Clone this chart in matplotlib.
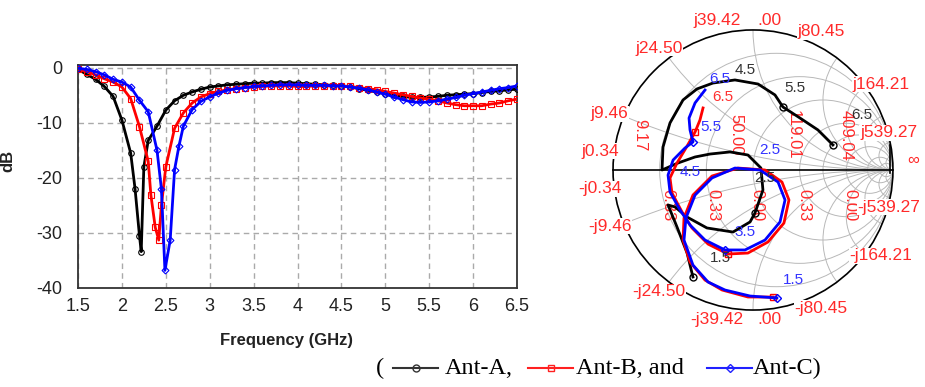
import numpy as np
import matplotlib.pyplot as plt
from matplotlib.lines import Line2D
from matplotlib.patches import Circle

plt.rcParams['font.family'] = ['Liberation Sans', 'DejaVu Sans']
plt.rcParams['axes.unicode_minus'] = False

# ---- S11 data (GHz, dB) ----
freq_a = [1.5, 1.6, 1.7, 1.8, 1.9, 2.0, 2.1, 2.15, 2.2, 2.22, 2.25, 2.3, 2.4, 2.5, 2.6, 2.7, 2.8, 2.9,
          3.0, 3.1, 3.2, 3.3, 3.4, 3.5, 3.6, 3.7, 3.8, 3.9, 4.0, 4.1, 4.2, 4.3, 4.4, 4.5, 4.6, 4.7,
          4.8, 4.9, 5.0, 5.1, 5.2, 5.3, 5.4, 5.5, 5.6, 5.7, 5.8, 5.9, 6.0, 6.1, 6.2, 6.3, 6.4, 6.5]
s11_a = [-0.3, -1.2, -2.1, -3.4, -5.2, -9.5, -15.5, -22.0, -30.5, -33.4, -18.0, -13.2, -10.6, -7.7,
         -6.0, -5.0, -4.4, -3.9, -3.5, -3.3, -3.1, -3.0, -2.9, -2.8, -2.8, -2.7, -2.7, -2.7, -2.8,
         -2.9, -3.0, -3.1, -3.2, -3.3, -3.5, -3.8, -4.1, -4.4, -4.7, -5.0, -5.2, -5.4, -5.4, -5.3,
         -5.2, -5.0, -4.9, -4.8, -4.7, -4.5, -4.3, -4.2, -4.0, -3.9]

freq_b = [1.5, 1.6, 1.7, 1.8, 1.9, 2.0, 2.1, 2.2, 2.3, 2.33, 2.38, 2.42, 2.45, 2.5, 2.6, 2.7, 2.8, 2.9,
          3.0, 3.1, 3.2, 3.3, 3.4, 3.5, 3.6, 3.7, 3.8, 3.9, 4.0, 4.1, 4.2, 4.3, 4.4, 4.5, 4.6, 4.7,
          4.8, 4.9, 5.0, 5.1, 5.2, 5.3, 5.4, 5.5, 5.6, 5.7, 5.8, 5.9, 6.0, 6.1, 6.2, 6.3, 6.4, 6.5]
s11_b = [-0.3, -0.7, -1.3, -2.0, -2.6, -3.5, -5.6, -10.7, -17.0, -23.1, -29.0, -31.3, -25.0, -18.0,
         -11.0, -8.2, -6.4, -5.3, -4.7, -4.3, -4.0, -3.8, -3.6, -3.5, -3.4, -3.3, -3.3, -3.3, -3.4,
         -3.4, -3.3, -3.3, -3.3, -3.3, -3.4, -3.6, -3.8, -4.0, -4.3, -4.6, -4.9, -5.2, -5.5, -5.7,
         -6.0, -6.4, -6.7, -6.9, -6.9, -6.9, -6.6, -6.4, -6.0, -5.7]

freq_c = [1.5, 1.6, 1.7, 1.8, 1.9, 2.0, 2.1, 2.2, 2.3, 2.4, 2.45, 2.49, 2.55, 2.6, 2.65, 2.7, 2.8, 2.9,
          3.0, 3.1, 3.2, 3.3, 3.4, 3.5, 3.6, 3.7, 3.8, 3.9, 4.0, 4.1, 4.2, 4.3, 4.4, 4.5, 4.6, 4.7,
          4.8, 4.9, 5.0, 5.1, 5.2, 5.3, 5.4, 5.5, 5.6, 5.7, 5.8, 5.9, 6.0, 6.1, 6.2, 6.3, 6.4, 6.5]
s11_c = [-0.1, -0.3, -0.7, -1.3, -2.1, -2.6, -3.5, -5.9, -8.0, -15.0, -22.0, -36.8, -31.3, -18.5,
         -14.2, -10.6, -7.6, -6.1, -5.3, -4.6, -4.1, -3.8, -3.6, -3.4, -3.3, -3.2, -3.1, -3.1, -3.1,
         -3.2, -3.2, -3.2, -3.3, -3.3, -3.5, -3.7, -4.0, -4.4, -4.8, -5.3, -5.8, -6.2, -6.3, -6.2,
         -6.0, -5.7, -5.4, -5.0, -4.7, -4.4, -4.1, -3.8, -3.6, -3.3]

# ---- reflection coefficient traces ----
gre_a = [-0.429, -0.471, -0.543, -0.607, -0.557, -0.471, -0.329, -0.143, -0.021, 0.014, 0.071, 0.057,
         -0.036, -0.164, -0.307, -0.414, -0.536, -0.65, -0.643, -0.593, -0.5, -0.4, -0.286, -0.129,
         0.036, 0.157, 0.214, 0.336, 0.464, 0.571]
gim_a = [-0.764, -0.593, -0.407, -0.25, -0.264, -0.336, -0.414, -0.443, -0.371, -0.307, -0.143, 0.014,
         0.107, 0.129, 0.114, 0.093, 0.05, 0.0, 0.164, 0.336, 0.5, 0.579, 0.621, 0.643,
         0.614, 0.536, 0.45, 0.371, 0.286, 0.179]

gre_b = [0.143, -0.036, -0.221, -0.343, -0.45, -0.5, -0.493, -0.429, -0.293, -0.107, 0.086, 0.207,
         0.257, 0.221, 0.107, -0.036, -0.179, -0.321, -0.436, -0.507, -0.579, -0.593, -0.543, -0.479,
         -0.414, -0.379, -0.357]
gim_b = [-0.907, -0.907, -0.857, -0.786, -0.657, -0.5, -0.343, -0.179, -0.043, 0.014, 0.0, -0.086,
         -0.214, -0.379, -0.514, -0.593, -0.6, -0.529, -0.414, -0.3, -0.164, -0.057, 0.05, 0.157,
         0.271, 0.357, 0.443]

gre_c = [0.171, -0.021, -0.2, -0.321, -0.429, -0.493, -0.479, -0.414, -0.293, -0.129, 0.05, 0.179,
         0.229, 0.193, 0.086, -0.057, -0.2, -0.343, -0.45, -0.521, -0.593, -0.607, -0.571, -0.486,
         -0.429, -0.45, -0.457, -0.414, -0.343]
gim_c = [-0.914, -0.9, -0.857, -0.8, -0.679, -0.5, -0.343, -0.179, -0.057, 0.014, 0.0, -0.086,
         -0.214, -0.371, -0.5, -0.571, -0.571, -0.5, -0.393, -0.286, -0.157, -0.036, 0.071, 0.157,
         0.2, 0.286, 0.371, 0.479, 0.571]

react_lbl = [0.34, 9.46, 24.50, 39.42, 80.45, 164.21, 539.27]
res_lbl = ['9.17', '50.00', '119.01', '409.04']
res_val = [9.17, 50.00, 119.01, 409.04]
low_lbl = ['0.33', '0.33', '0.00', '0.33', '0.00']
low_pos = [-0.61, -0.29, 0.03, 0.36, 0.69]

# frequency tags on the Smith chart: (text, x, y, colour)
f_tags = [('1.5', -0.236, -0.629, '#333333'), ('2.5', 0.086, -0.057, '#333333'),
          ('4.5', -0.057, 0.714, '#333333'), ('5.5', 0.30, 0.586, '#333333'),
          ('6.5', 0.78, 0.39, '#333333'),
          ('6.5', -0.236, 0.65, '#3333ff'), ('5.5', -0.30, 0.307, '#3333ff'),
          ('4.5', -0.45, -0.014, '#3333ff'), ('3.5', -0.057, -0.443, '#3333ff'),
          ('2.5', 0.121, 0.143, '#3333ff'), ('1.5', 0.286, -0.786, '#3333ff'),
          ('6.5', -0.214, 0.521, '#ff3030')]

fig = plt.figure(figsize=(9.25, 3.87), dpi=100)

# ================= S11 plot =================
ax = fig.add_axes([78 / 925, 99 / 387, 439 / 925, 223 / 387])
ax.plot(freq_a, s11_a, color='k', lw=2, marker='o', ms=4, mfc='none', mew=0.8, zorder=3)
ax.plot(freq_b, s11_b, color='#ff0000', lw=2, marker='s', ms=4, mfc='none', mew=0.8, zorder=4)
ax.plot(freq_c, s11_c, color='#0000ff', lw=2, marker='D', ms=3.5, mfc='none', mew=0.8, zorder=5)
ax.set_xlim(1.5, 6.5)
ax.set_ylim(-40, 0.5)
ax.set_xticks(np.arange(1.5, 6.51, 0.5))
ax.set_xticklabels(['1.5', '2', '2.5', '3', '3.5', '4', '4.5', '5', '5.5', '6', '6.5'])
ax.set_yticks([0, -10, -20, -30, -40])
ax.grid(True, ls=(0, (4, 3)), color='#aaaaaa', lw=1)
ax.tick_params(axis='x', length=0, labelsize=13, pad=7, colors='#222222')
ax.tick_params(axis='y', length=0, labelsize=13, pad=11, colors='#222222')
for sp in ax.spines.values():
    sp.set_linewidth(1.3)
    sp.set_color('#333333')
ax.set_xlabel('Frequency (GHz)', fontsize=12, weight='bold', color='#222222')
ax.set_ylabel('dB', fontsize=12, weight='bold', color='#222222')
ax.xaxis.set_label_coords(0.476, -0.2)
ax.yaxis.set_label_coords(-0.143, 0.57)

# ================= Smith chart =================
sax = fig.add_axes([560 / 925, 47 / 387, 365 / 925, 340 / 387])
sax.set_xlim(-1.379, 1.229)
sax.set_ylim(-1.214, 1.214)
sax.axis('off')

clip = Circle((0, 0), 1, transform=sax.transData)
grid_c = '#b8b8b8'
for r in [0.2, 0.5, 1, 2, 3, 5, 10, 20]:
    c = Circle((r / (1 + r), 0), 1 / (1 + r), fill=False, ec=grid_c, lw=0.7, zorder=1)
    sax.add_patch(c)
    c.set_clip_path(clip)
for xv in [0.2, 0.5, 1, 2, 3, 5, 10, 20]:
    for sgn in [1, -1]:
        c = Circle((1, sgn / xv), 1 / xv, fill=False, ec=grid_c, lw=0.7, zorder=1)
        sax.add_patch(c)
        c.set_clip_path(clip)
sax.add_patch(Circle((0, 0), 1, fill=False, ec='k', lw=1.2, zorder=2))
sax.plot([-1, 1], [0, 0], color='k', lw=1.2, zorder=2)
sax.plot([0.98, 0.98], [-0.02, 0.18], color='k', lw=1.2, zorder=2)

red_t = '#ff2a2a'
for xv in react_lbl:
    th = np.degrees(2 * np.arctan(50.0 / xv))
    if th > 90:
        th = min(th, 173)
    else:
        th = max(th, 14)
    for sgn in [1, -1]:
        a = np.radians(th) * sgn
        px = min(1.1 * np.cos(a), 0.97)
        py = 1.1 * np.sin(a)
        sax.text(px, py, ('j' if sgn > 0 else '-j') + '%.2f' % xv,
                 color=red_t, fontsize=12.5, ha='center', va='center', zorder=6,
                 bbox=dict(fc='white', ec='none', pad=0.5))
        if xv == 39.42:
            # tail of the hidden j50.00 label peeking out
            sax.text(px + 0.29, py, '.00', color=red_t, fontsize=12.5, ha='left',
                     va='center', zorder=6, bbox=dict(fc='white', ec='none', pad=0.5))
sax.text(1.1, 0.07, '\u221e', color=red_t, fontsize=12, ha='left', va='center', zorder=6)

for lbl, rv in zip(res_lbl, res_val):
    g = (rv - 50) / (rv + 50)
    sax.text(g - 0.12, 0.25, lbl, color=red_t, fontsize=12, rotation=-90,
             ha='center', va='center', zorder=2)
for lbl, gx in zip(low_lbl, low_pos):
    sax.text(gx, -0.25, lbl, color=red_t, fontsize=12, rotation=-90,
             ha='center', va='center', zorder=2)

sax.plot(gre_a, gim_a, color='k', lw=2, marker='o', ms=5, mfc='none', mew=1,
         markevery=[0, 9, 26, 29], zorder=3)
sax.plot(gre_b, gim_b, color='#ff0000', lw=2, marker='s', ms=4.5, mfc='none', mew=1,
         markevery=[0, 16, 24], zorder=4)
sax.plot(gre_c, gim_c, color='#0000ff', lw=2, marker='D', ms=4, mfc='none', mew=1,
         markevery=[0, 16, 24], zorder=5)

for txt, tx, ty, col in f_tags:
    sax.text(tx, ty, txt, color=col, fontsize=11, ha='center', va='center', zorder=7)

# ================= legend line (drawn by hand to match spacing) =================
leg_y = 1 - 368 / 387
leg_items = [('Ant-A,', '#333333', 'o', 393, 438, 445),
             ('Ant-B, and', '#ff2020', 's', 528, 573, 576),
             ('Ant-C)', '#2020ff', 'D', 707, 752, 753)]
serif = 'Liberation Serif'
fig.text(376 / 925, leg_y, '(', fontsize=17.5, family=serif, ha='left', va='center')
for lbl, col, mk, x0, x1, xt in leg_items:
    fig.add_artist(Line2D([x0 / 925, x1 / 925], [leg_y, leg_y], transform=fig.transFigure,
                          color=col, lw=1.5))
    fig.add_artist(Line2D([(x0 + x1) / 2 / 925], [leg_y], transform=fig.transFigure,
                          color=col, marker=mk, ms=5 if mk != 'D' else 4.5, mfc='none', mew=1))
    fig.text(xt / 925, leg_y, lbl, fontsize=17.5, family=serif, ha='left', va='center')

fig.savefig('out.png', dpi=100)
